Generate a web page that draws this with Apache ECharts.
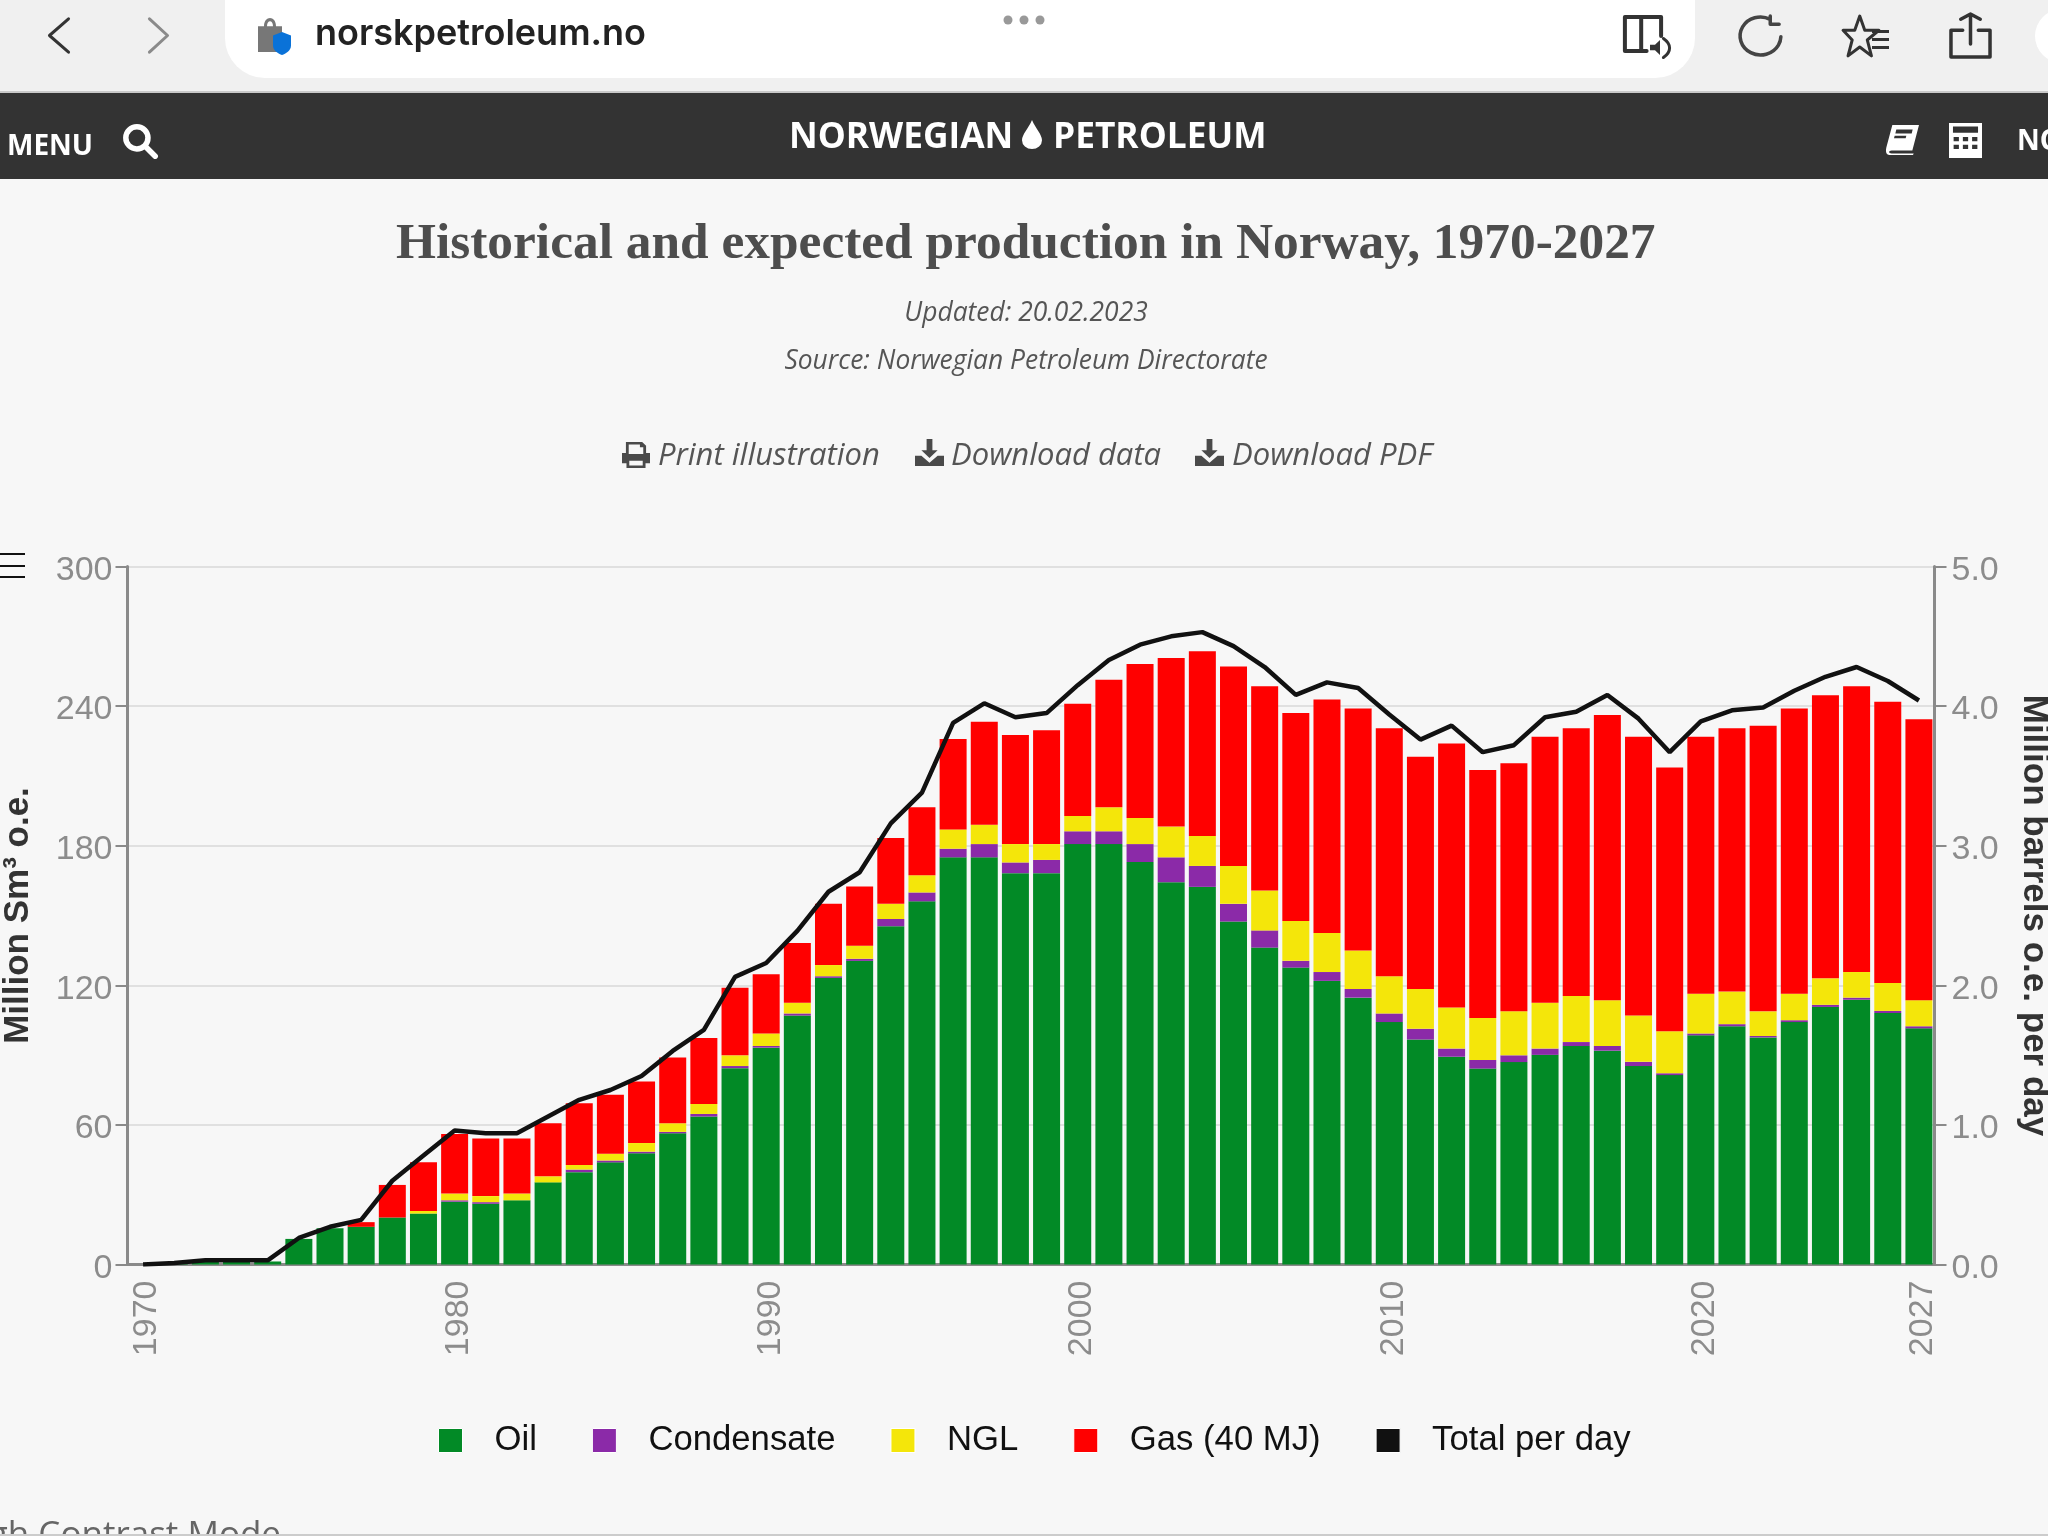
<!DOCTYPE html>
<html>
<head>
<meta charset="utf-8">
<title>Historical and expected production in Norway</title>
<script src="https://cdn.jsdelivr.net/npm/echarts@6/dist/echarts.min.js"></script>
<style>
html, body { margin: 0; padding: 0; background: #f7f7f7; }
#main { width: 2048px; height: 1536px; }
</style>
</head>
<body>
<div id="main"></div>
<script>
// values, 1970-2027
var years = [];
for (var y = 1970; y <= 2027; y++) years.push(String(y));

var oil = [null, 0.3, 1.3, 1.3, 1.3, 11, 15.6, 16.2, 20.2, 21.9,
  27, 26.1, 27.6, 35.3, 39.7, 43.9, 47.8, 56.4, 63.6, 84.4,
  93.2, 107, 123.2, 130.5, 145.4, 156.1, 175, 175, 168.2, 168.2,
  180.7, 180.7, 173, 164.3, 162.3, 147.4, 136.2, 127.6, 121.9, 114.7,
  104.2, 96.7, 89.3, 84.2, 87, 90.1, 93.9, 91.9, 85.3, 81.4,
  98.5, 102.4, 97.6, 104.2, 110.7, 113.8, 108.1, 101.5];
var condensate = [null, null, null, null, null, null, null, null, null, null,
  0.6, 0.7, null, null, 1.1, 0.8, 0.7, 0.6, 1.1, 0.9,
  0.7, 0.9, 0.7, 0.9, 3.1, 3.8, 3.7, 5.7, 4.6, 5.7,
  5.5, 5.5, 7.7, 10.7, 9, 7.6, 7.4, 2.9, 3.8, 3.7,
  3.7, 4.6, 3.5, 3.7, 2.9, 2.7, 1.7, 2, 1.8, 0.8,
  0.8, 0.9, 0.6, 0.8, 0.9, 0.9, 0.9, 0.9];
var ngl = [null, null, null, null, null, null, null, null, null, 1.1,
  2.9, 2.6, 2.9, 2.6, 2, 2.9, 3.7, 3.7, 4.3, 4.6,
  5.4, 4.6, 4.8, 5.6, 6.5, 7.4, 8.3, 8.3, 7.9, 6.8,
  6.6, 10.3, 11.2, 13.2, 12.9, 16.3, 17.1, 17.1, 16.8, 16.6,
  16, 17.1, 17.7, 18, 18.9, 19.7, 19.8, 19.7, 19.9, 18,
  17.1, 14, 10.6, 11.4, 11.4, 11, 12, 11.2];
var gas = [null, null, null, null, null, null, null, 2, 14, 20.9,
  25.6, 24.8, 23.7, 22.8, 26.5, 25.4, 26.5, 28.3, 28.4, 29.1,
  25.5, 25.7, 26.3, 25.5, 28.3, 29.2, 38.9, 44.3, 46.9, 48.9,
  48.2, 54.8, 66.2, 72.5, 79.4, 85.7, 87.8, 89.4, 100.3, 104,
  106.6, 99.8, 113.4, 106.6, 106.6, 114.3, 115.1, 122.6, 119.8, 113.4,
  110.4, 113.2, 122.8, 122.6, 121.7, 122.8, 120.9, 120.8];
var totalPerDay = [0, 0.01, 0.03, 0.03, 0.03, 0.19, 0.27, 0.32, 0.6, 0.78,
  0.96, 0.94, 0.94, 1.06, 1.18, 1.25, 1.35, 1.53, 1.68, 2.06,
  2.16, 2.39, 2.67, 2.81, 3.16, 3.38, 3.88, 4.02, 3.92, 3.95,
  4.15, 4.33, 4.44, 4.5, 4.53, 4.43, 4.28, 4.08, 4.17, 4.13,
  3.94, 3.76, 3.86, 3.67, 3.72, 3.92, 3.96, 4.08, 3.91, 3.67,
  3.89, 3.97, 3.99, 4.11, 4.21, 4.28, 4.18, 4.04];

var labelFont = '"Liberation Sans", Arial, sans-serif';
var pageFont = '"Open Sans", "Noto Sans", sans-serif';

function txt(text, x, y, font, fill, align) {
  return { type: 'text', style: { text: text, x: x, y: y, font: font, fill: fill, textAlign: align || 'left', textVerticalAlign: 'middle' } };
}
function box(x, y, w, h, fill, r) {
  return { type: 'rect', shape: { x: x, y: y, width: w, height: h, r: r || 0 }, style: { fill: fill } };
}

var pageItems = [
  // browser bar
  box(0, 0, 2048, 92, '#f0f0f0'),
  box(0, 91, 2048, 2, '#c9c9c9'),
  box(225, -50, 1470, 128, '#ffffff', 40),
  { type: 'circle', shape: { cx: 2062, cy: 36, r: 27 }, style: { fill: '#ffffff' } },
  txt('norskpetroleum.no', 315, 34, '600 36px Inter, "Liberation Sans", sans-serif', '#222222'),
  { type: 'circle', shape: { cx: 1008, cy: 20, r: 4.5 }, style: { fill: '#999999' } },
  { type: 'circle', shape: { cx: 1024, cy: 20, r: 4.5 }, style: { fill: '#999999' } },
  { type: 'circle', shape: { cx: 1040, cy: 20, r: 4.5 }, style: { fill: '#999999' } },
  box(1872, 30, 17, 3, '#333333'), box(1872, 38, 17, 3, '#333333'), box(1872, 46, 17, 3, '#333333'),

  // site header
  box(0, 93, 2048, 86, '#333333'),
  txt('MENU', 7, 147, '700 28px ' + pageFont, '#ffffff'),
  txt('NORWEGIAN', 789, 138, '700 35.3px ' + pageFont, '#ffffff'),
  txt('PETROLEUM', 1053, 138, '700 35.3px ' + pageFont, '#ffffff'),
  txt('NO', 2017, 142, '700 28px ' + pageFont, '#ffffff'),

  // page heading texts
  txt('Updated: 20.02.2023', 1026, 313, 'italic 26.4px ' + pageFont, '#555555', 'center'),
  txt('Source: Norwegian Petroleum Directorate', 1026, 361, 'italic 26.4px ' + pageFont, '#555555', 'center'),
  txt('Print illustration', 658, 456.5, 'italic 31px ' + pageFont, '#555555'),
  txt('Download data', 951, 456.5, 'italic 31px ' + pageFont, '#555555'),
  txt('Download PDF', 1232, 456.5, 'italic 31px ' + pageFont, '#555555'),

  // chart menu
  box(0, 553, 25, 2, '#111111'), box(0, 565, 25, 2, '#111111'), box(0, 576, 25, 2, '#111111'),

  // cut-off text at the bottom
  txt('High Contrast Mode', 281, 1536.5, '35px ' + pageFont, '#666666', 'right'),
  box(0, 1534, 2048, 2, '#cccccc')
];

function barSeries(name, data, color) {
  return {
    name: name,
    type: 'bar',
    stack: 'production',
    data: data,
    barWidth: 27,
    itemStyle: { color: color }
  };
}

var option = {
  animation: false,
  backgroundColor: '#f7f7f7',
  title: {
    text: 'Historical and expected production in Norway, 1970-2027',
    left: 391,
    top: 214,
    textStyle: { fontFamily: '"Liberation Serif", serif', fontWeight: 'bold', fontSize: 51.4, color: '#4d4d4d' }
  },
  legend: {
    left: 433,
    top: 1418,
    itemWidth: 24,
    itemHeight: 24,
    itemGap: 55,
    icon: 'rect',
    itemStyle: { borderColor: '#ffffff', borderWidth: 1 },
    textStyle: { fontFamily: labelFont, fontSize: 34.7, color: '#111111', padding: [0, 0, 0, 27] },
    data: ['Oil', 'Condensate', 'NGL', 'Gas (40 MJ)', 'Total per day']
  },
  grid: { left: 127.5, right: 113.5, top: 566.5, height: 698, outerBoundsMode: 'none' },
  xAxis: {
    type: 'category',
    data: years,
    axisLine: { lineStyle: { color: '#8a8a8a', width: 3 } },
    axisTick: {
      length: 11,
      lineStyle: { color: '#8a8a8a', width: 2 },
      interval: function (i) { return i % 10 === 0; }
    },
    axisLabel: {
      rotate: 90,
      margin: 16,
      verticalAlign: 'top',
      lineHeight: 8,
      color: '#8c8c8c',
      fontFamily: labelFont,
      fontSize: 34,
      hideOverlap: false,
      interval: function (i) { return i % 10 === 0 || i === 57; }
    }
  },
  yAxis: [{
    type: 'value',
    min: 0,
    max: 300,
    interval: 60,
    name: 'Million Sm³ o.e.',
    nameLocation: 'middle',
    nameRotate: 90,
    nameGap: 92,
    nameTextStyle: { fontFamily: labelFont, fontWeight: 'bold', fontSize: 35, color: '#333333' },
    axisLine: { show: true, lineStyle: { color: '#8a8a8a', width: 3 } },
    axisTick: { show: true, length: 12, lineStyle: { color: '#8a8a8a', width: 2 } },
    axisLabel: { margin: 15, verticalAlign: 'top', lineHeight: 8, color: '#8c8c8c', fontFamily: labelFont, fontSize: 34 },
    splitLine: { lineStyle: { color: '#e0e0e0', width: 2 } }
  }, {
    type: 'value',
    position: 'right',
    min: 0,
    max: 5,
    interval: 1,
    name: 'Million barrels o.e. per day',
    nameLocation: 'middle',
    nameRotate: -90,
    nameGap: 82,
    nameTextStyle: { fontFamily: labelFont, fontWeight: 'bold', fontSize: 35, color: '#333333' },
    axisLine: { show: true, lineStyle: { color: '#8a8a8a', width: 3 } },
    axisTick: { show: true, length: 12, lineStyle: { color: '#8a8a8a', width: 2 } },
    axisLabel: {
      margin: 17,
      verticalAlign: 'top',
      lineHeight: 8,
      color: '#8c8c8c',
      fontFamily: labelFont,
      fontSize: 34,
      formatter: function (v) { return v.toFixed(1); }
    },
    splitLine: { show: false }
  }],
  series: [
    barSeries('Oil', oil, '#028a26'),
    barSeries('Condensate', condensate, '#8b2aa8'),
    barSeries('NGL', ngl, '#f4e60a'),
    barSeries('Gas (40 MJ)', gas, '#ff0000'),
    {
      name: 'Total per day',
      type: 'line',
      yAxisIndex: 1,
      data: totalPerDay,
      symbol: 'none',
      z: 5,
      itemStyle: { color: '#111111' },
      lineStyle: { color: '#111111', width: 4.5 }
    }
  ],
  graphic: { elements: pageItems }
};

var chart = echarts.init(document.getElementById('main'));
chart.setOption(option);

// small page icons, graphic component has no path type so they go on the zrender layer
var zr = chart.getZr();
function icon(d, x, y, w, h, style) {
  zr.add(echarts.graphic.makePath(d, { z: 100, silent: true, style: style }, { x: x, y: y, width: w, height: h }, 'cover'));
}
function lineIcon(d, x, y, w, h, color, lw) {
  icon(d, x, y, w, h, { fill: 'none', stroke: color, lineWidth: lw || 3, lineJoin: 'round', lineCap: 'round', strokeNoScale: true });
}
var downloadPath = 'M40 0H60V42H78L50 70L22 42H40ZM0 62H22L50 88L78 62H100V100H0Z';
var printPath = 'M22 0H72L86 14V42H100V82H84V100H16V82H0V42H14V0ZM24 10V46H76V20H64V10ZM26 72V90H74V72Z';

lineIcon('M100 0L0 50L100 100', 49, 18, 20, 35, '#333333');
lineIcon('M0 0L100 50L0 100', 149, 18, 19, 35, '#8a8a8a');
icon('M30 30C30 0 70 0 70 30H90V100H10V30ZM40 30H60C60 12 40 12 40 30Z', 258, 18, 24, 34, { fill: '#777777' });
icon('M50 0L100 15V60C100 80 70 95 50 100C30 95 0 80 0 60V15Z', 273, 32, 18, 23, { fill: '#0a72d8' });
lineIcon('M0 0H45V90H0ZM45 0H100V50M45 90H60', 1624, 16, 38, 36, '#333333', 4);
icon('M0 35H25L50 10V90L25 65H0Z', 1650, 40, 10, 15, { fill: '#333333' });
lineIcon('M0 0C50 30 50 70 0 100', 1663, 38, 7, 20, '#333333', 3);
lineIcon('M72 8A46 46 0 1 0 96 50M72 0V20H92', 1739, 15, 43, 41, '#444444', 3.5);
lineIcon('M40 0L52 32H86L58 54L68 90L40 70L12 90L22 54L0 32H28Z', 1842, 15, 38, 42, '#333333', 3);
lineIcon('M25 12L50 0L75 12M50 0V70M30 38H0V100H100V38H70', 1950, 13, 41, 45, '#333333', 3.5);
lineIcon('M62 62A38 38 0 1 1 62 8A38 38 0 0 1 62 62L98 98', 125, 126, 31, 31, '#ffffff', 5.5);
icon('M50 0C65 30 90 50 90 70A40 30 0 0 1 10 70C10 50 35 30 50 0Z', 1022, 120, 20, 29, { fill: '#ffffff' });
icon('M20 0H100L80 85H18C8 85 8 95 18 95H84L82 100H12C0 100 0 85 2 75ZM32 15L29 28H78L81 15ZM27 36L25 44H60L62 36Z', 1886, 125, 33, 30, { fill: '#ffffff' });
icon('M0 0H100V100H0ZM12 10V28H88V10ZM14 40V52H30V40ZM42 40V52H58V40ZM70 40V52H86V40ZM14 62V74H30V62ZM42 62V74H58V62ZM70 62V74H86V62Z', 1949, 123, 33, 35, { fill: '#ffffff' });
icon(printPath, 622, 442, 28, 26, { fill: '#4a4a4a' });
icon(downloadPath, 915, 439, 29, 27, { fill: '#4a4a4a' });
icon(downloadPath, 1195, 439, 29, 27, { fill: '#4a4a4a' });
</script>
</body>
</html>
